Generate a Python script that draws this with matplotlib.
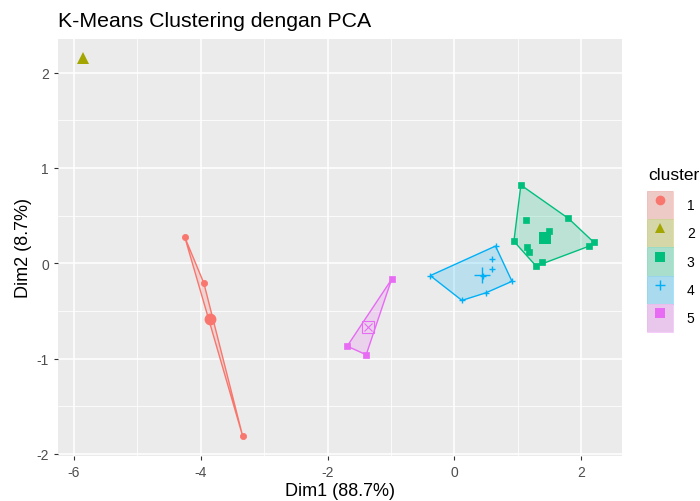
import matplotlib
matplotlib.use("Agg")
import matplotlib.pyplot as plt
import numpy as np
from matplotlib.patches import Polygon, Patch
from matplotlib.lines import Line2D
from matplotlib.legend_handler import HandlerTuple

plt.rcParams['font.family'] = ['Liberation Sans', 'DejaVu Sans']
plt.rcParams['axes.unicode_minus'] = False

# PCA coordinates per cluster (Dim1, Dim2)
c1_x = [-4.25, -3.95, -3.34]
c1_y = [0.27, -0.21, -1.81]
c2_x = [-5.85]
c2_y = [2.15]
c3_x = [1.05, 1.80, 2.20, 2.13, 1.29, 1.39, 0.94, 1.13, 1.15, 1.18, 1.50, 1.45]
c3_y = [0.82, 0.47, 0.22, 0.18, -0.03, 0.01, 0.23, 0.45, 0.17, 0.12, 0.34, 0.24]
c4_x = [-0.38, 0.12, 0.91, 0.65, 0.59, 0.60, 0.45, 0.50]
c4_y = [-0.13, -0.39, -0.19, 0.18, 0.04, -0.06, -0.13, -0.31]
c5_x = [-0.99, -1.69, -1.39]
c5_y = [-0.17, -0.87, -0.96]

clusters = ['1', '2', '3', '4', '5']
colors = ['#F8766D', '#A3A500', '#00BF7D', '#00B0F6', '#E76BF3']
markers = ['o', '^', 's', '+', 's']

xs = [c1_x, c2_x, c3_x, c4_x, c5_x]
ys = [c1_y, c2_y, c3_y, c4_y, c5_y]


def convex_hull(pts):
    pts = sorted(set(pts))
    if len(pts) < 3:
        return pts
    def cross(o, a, b):
        return (a[0]-o[0])*(b[1]-o[1]) - (a[1]-o[1])*(b[0]-o[0])
    lower, upper = [], []
    for p in pts:
        while len(lower) >= 2 and cross(lower[-2], lower[-1], p) <= 0:
            lower.pop()
        lower.append(p)
    for p in reversed(pts):
        while len(upper) >= 2 and cross(upper[-2], upper[-1], p) <= 0:
            upper.pop()
        upper.append(p)
    return lower[:-1] + upper[:-1]


fig = plt.figure(figsize=(7, 5.02), dpi=100)
ax = fig.add_axes([0.083, 0.09, 0.806, 0.83])
ax.set_facecolor('#EBEBEB')

for x, y, col, m in zip(xs, ys, colors, markers):
    hull = convex_hull(list(zip(x, y)))
    if len(hull) >= 2:
        ax.add_patch(Polygon(hull, closed=True, facecolor=col, alpha=0.2,
                             edgecolor='none', zorder=2))
        ax.add_patch(Polygon(hull, closed=True, facecolor='none',
                             edgecolor=col, lw=1.0, zorder=3))
    ax.plot(x, y, linestyle='none', marker=m, color=col, ms=4.5,
            mew=1.0 if m == '+' else 0.5, zorder=4)
    # cluster centre
    cx, cy = np.mean(x), np.mean(y)
    if m == 's' and col == colors[4]:
        ax.plot(cx, cy, marker='s', mfc='none', mec=col, ms=8, mew=0.8, zorder=5)
        ax.plot(cx, cy, marker='x', color=col, ms=6, mew=0.8, zorder=5)
    elif m == '+':
        ax.plot(cx, cy, marker='+', color=col, ms=11, mew=1.0, zorder=5)
    else:
        ax.plot(cx, cy, marker=m, color=col, ms=8.5, mew=0, zorder=5)

ax.set_xlim(-6.25, 2.65)
ax.set_ylim(-2.02, 2.35)
ax.set_xticks([-6, -4, -2, 0, 2])
ax.set_yticks([-2, -1, 0, 1, 2])
ax.set_xticks([-5, -3, -1, 1], minor=True)
ax.set_yticks([-1.5, -0.5, 0.5, 1.5], minor=True)
ax.grid(which='major', color='white', lw=1.1)
ax.grid(which='minor', color='white', lw=0.55)
ax.set_axisbelow(True)
for s in ax.spines.values():
    s.set_visible(False)
ax.tick_params(which='major', length=3, width=0.8, color='#333333',
               labelcolor='#4D4D4D', labelsize=10)
ax.tick_params(which='minor', length=0)

ax.set_xlabel('Dim1 (88.7%)', fontsize=13, labelpad=2)
ax.set_ylabel('Dim2 (8.7%)', fontsize=13, labelpad=3)
fig.text(0.083, 0.957, 'K-Means Clustering dengan PCA', fontsize=15.3,
         ha='left', va='center')

# legend: title as its own text so the gap to the keys can be set
fig.text(648 / 700, 1 - 175 / 502, 'cluster', fontsize=12.5,
         ha='left', va='center')

handles = []
for col, m in zip(colors, markers):
    bg = Patch(facecolor='#EBEBEB', edgecolor='none')
    fill = Patch(facecolor=col, alpha=0.28, edgecolor=col, lw=0.6)
    mk = Line2D([], [], linestyle='none', marker=m, color=col, ms=7,
                mew=1.0 if m == '+' else 0)
    handles.append((bg, fill, mk))

leg = ax.legend(handles, clusters,
                handler_map={tuple: HandlerTuple(ndivide=1, pad=0)},
                loc='upper left', bbox_to_anchor=(647 / 700, 1 - 192 / 502),
                bbox_transform=fig.transFigure, frameon=False,
                fontsize=10, handlelength=1.87, handleheight=2.75,
                labelspacing=0.0, handletextpad=1.0,
                borderaxespad=0, borderpad=0)

fig.savefig('out.png', dpi=100)
